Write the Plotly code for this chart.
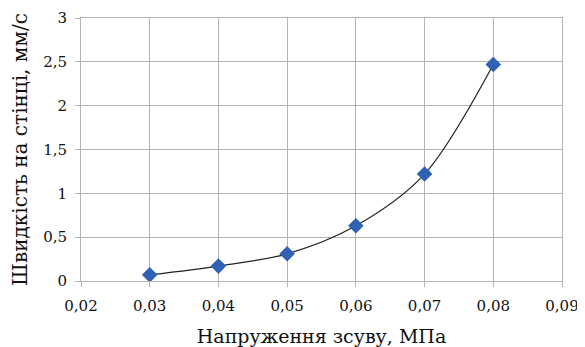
import plotly.graph_objects as go

stress = [0.03, 0.04, 0.05, 0.06, 0.07, 0.08]
velocity = [0.07, 0.17, 0.31, 0.63, 1.22, 2.47]

x_ticks = [0.02, 0.03, 0.04, 0.05, 0.06, 0.07, 0.08, 0.09]
x_labels = ["0,02", "0,03", "0,04", "0,05", "0,06", "0,07", "0,08", "0,09"]
y_ticks = [0, 0.5, 1, 1.5, 2, 2.5, 3]
y_labels = ["0", "0,5", "1", "1,5", "2", "2,5", "3"]

fig = go.Figure()
fig.add_trace(go.Scatter(
    x=stress, y=velocity, mode="lines",
    line=dict(color="#222222", width=1.2, shape="spline", smoothing=0.9),
    showlegend=False, hoverinfo="skip"))
fig.add_trace(go.Scatter(
    x=stress, y=velocity, mode="markers",
    marker=dict(symbol="diamond", size=12, color="#2F62B5"),
    showlegend=False))

font = "DejaVu Serif"
grid = "#B4B4B4"
fig.update_layout(
    width=577, height=339,
    margin=dict(l=73, r=23, t=10, b=66, autoexpand=False),
    paper_bgcolor="white", plot_bgcolor="white",
    separators=", ",
    font=dict(family=font, color="#111111", size=15),
    xaxis=dict(range=[0.02, 0.09], tickvals=x_ticks, ticktext=x_labels,
               showgrid=True, gridcolor=grid, gridwidth=1,
               showline=True, linecolor=grid, mirror=True,
               ticks="outside", ticklen=5, tickcolor=grid,
               ticklabelstandoff=6,
               zeroline=False, automargin=False,
               tickfont=dict(family=font, size=15),
               title=dict(text="Напруження зсуву, МПа", font=dict(family=font, size=19), standoff=15)),
    yaxis=dict(range=[0, 3], tickvals=y_ticks, ticktext=y_labels,
               showgrid=True, gridcolor=grid, gridwidth=1,
               showline=True, linecolor=grid, mirror=True,
               ticks="outside", ticklen=5, tickcolor=grid,
               ticklabelstandoff=5,
               zeroline=False, automargin=False,
               tickfont=dict(family=font, size=15),
               title=dict(text="Швидкість на стінці, мм/с", font=dict(family=font, size=20), standoff=14)),
)

fig.write_html("out.html")
